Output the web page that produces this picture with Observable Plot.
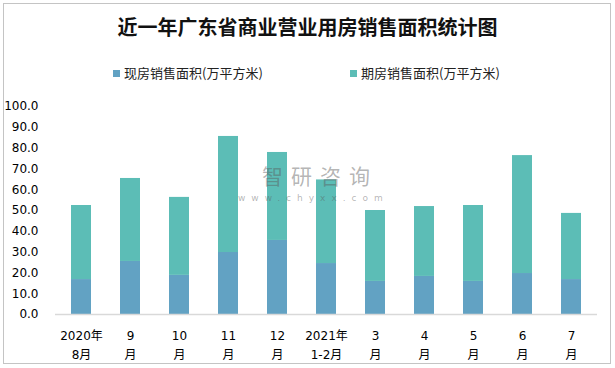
<!DOCTYPE html>
<html><head><meta charset="utf-8">
<script src="https://cdn.jsdelivr.net/npm/d3@7"></script>
<script src="https://cdn.jsdelivr.net/npm/@observablehq/plot@0.6"></script>
<style>
body{margin:0;background:#fff;width:615px;height:368px;overflow:hidden;position:relative;font-family:"DejaVu Sans","Noto Sans CJK SC",sans-serif;}
#frame{position:absolute;left:3px;top:3px;width:606px;height:359px;border:1px solid #c4c4c4;}
#title{position:absolute;left:0;top:12px;width:615px;text-align:center;font-weight:bold;font-size:20px;font-family:"Noto Sans CJK SC",sans-serif;color:#111;line-height:30px;}
.leg{position:absolute;top:64px;font-size:13px;font-family:"Noto Sans CJK SC",sans-serif;color:#222;line-height:18px;white-space:nowrap;}
.leg i{display:inline-block;width:7px;height:7px;margin-right:4px;vertical-align:1px;}
#chart{position:absolute;left:0;top:90px;}
#wm{position:absolute;left:262px;top:163px;font-family:"Noto Sans CJK SC",sans-serif;font-size:21px;letter-spacing:8px;color:rgba(90,90,90,0.45);line-height:24px;}
#wm2{position:absolute;left:238px;top:193px;font-family:"DejaVu Sans",sans-serif;font-size:9px;letter-spacing:6px;color:rgba(90,90,90,0.45);line-height:10px;}
</style></head>
<body>
<div id="frame"></div>
<div id="title">近一年广东省商业营业用房销售面积统计图</div>
<div class="leg" style="left:113px"><i style="background:#62A2C3"></i>现房销售面积(万平方米)</div>
<div class="leg" style="left:350px"><i style="background:#5CBDB6"></i>期房销售面积(万平方米)</div>
<div id="chart"></div>
<div id="wm">智研咨询</div>
<div id="wm2">www.chyxx.com</div>
<script>
const months = ["2020年8月","9月","10月","11月","12月","2021年1-2月","3月","4月","5月","6月","7月"];
const tickLabels = ["2020年\n8月","9\n月","10\n月","11\n月","12\n月","2021年\n1-2月","3\n月","4\n月","5\n月","6\n月","7\n月"];
const seriesNames = ["现房销售面积(万平方米)","期房销售面积(万平方米)"];
const xianfang = [16.8,25.5,18.8,29.8,35.6,24.5,15.9,18.3,15.9,19.7,16.8];
const total = [52.4,65.4,56.3,85.6,77.9,64.7,50.0,51.9,52.4,76.4,48.6];
const qifang = total.map((t,i)=>+(t - xianfang[i]).toFixed(1));
const yTicks = [0,10,20,30,40,50,60,70,80,90,100];
const colors = ["#62A2C3","#5CBDB6"];

const data = [];
months.forEach((m,i)=>{
  data.push({month:m, series:seriesNames[0], value:xianfang[i]});
  data.push({month:m, series:seriesNames[1], value:qifang[i]});
});
const labelOf = new Map(months.map((m,i)=>[m,tickLabels[i]]));

const chart = Plot.plot({
  width:615, height:278,
  marginTop:16, marginBottom:54, marginLeft:55, marginRight:18,
  style:{fontFamily:'"DejaVu Sans","Noto Sans CJK SC",sans-serif', fontSize:"12px", color:"#000", background:"transparent"},
  x:{domain:months, paddingInner:0.593, paddingOuter:0.305, axis:null},
  y:{domain:[0,100], axis:null},
  color:{domain:seriesNames, range:colors},
  marks:[
    Plot.barY(data, {x:"month", y:"value", fill:"series"}),
    Plot.ruleY([0], {stroke:"#d9d9d9", strokeWidth:1.5}),
    Plot.axisY({ticks:yTicks, tickSize:0, tickPadding:17, tickFormat:d3.format(".1f"), fontSize:12, fill:"#000", label:null}),
    Plot.axisX({tickSize:0, tickPadding:12, tickFormat:d=>labelOf.get(d), fontSize:12, lineHeight:1.58, fill:"#000", label:null})
  ]
});
document.getElementById("chart").appendChild(chart);
</script>
</body></html>
